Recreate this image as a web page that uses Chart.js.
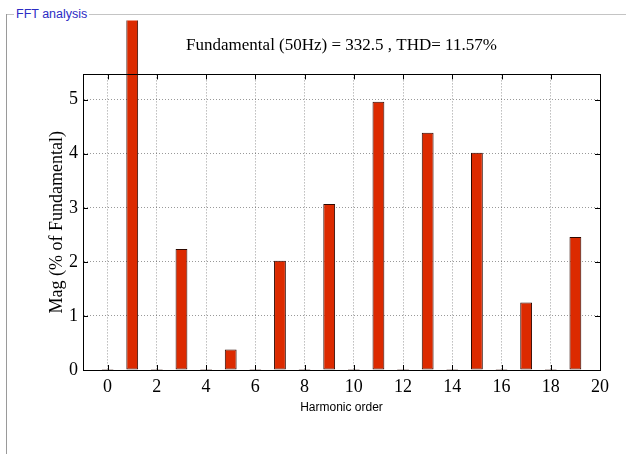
<!DOCTYPE html>
<html>
<head>
<meta charset="utf-8">
<script src="https://cdn.jsdelivr.net/npm/chart.js@4/dist/chart.umd.min.js"></script>
<style>
  html, body { margin: 0; padding: 0; background: #fff; }
  #panel { position: relative; width: 626px; height: 454px; overflow: hidden; }
  #topline { position: absolute; left: 6px; top: 14px; width: 620px; height: 1px; background: #c4c4c4; }
  #leftline { position: absolute; left: 6px; top: 14px; width: 1px; height: 440px; background: #9a9a9a; }
  #legend { position: absolute; left: 14px; top: 6px; padding: 0 2px; background: #fff;
    font: 12.5px 'Liberation Sans', Arial, sans-serif; color: #2c2cc4; line-height: 16px; }
  canvas { position: absolute; left: 0; top: 0; }
</style>
</head>
<body>
<div id="panel">
  <div id="topline"></div>
  <div id="leftline"></div>
  <div id="legend">FFT analysis</div>
  <canvas id="myChart" width="626" height="454"></canvas>
</div>
<script>
'use strict';

let harmonics = [0, 1, 2, 3, 4, 5, 6, 7, 8, 9, 10, 11, 12, 13, 14, 15, 16, 17, 18, 19];
let magnitudes = [0.02, 100, 0.02, 2.24, 0.02, 0.38, 0.02, 2.02, 0.02, 3.07, 0.02, 4.96, 0.02, 4.39, 0.02, 4.02, 0.02, 1.25, 0.02, 2.46];
let xTicks = [0, 2, 4, 6, 8, 10, 12, 14, 16, 18, 20];
let yTicks = [0, 1, 2, 3, 4, 5];
let chartTitle = 'Fundamental (50Hz) = 332.5 , THD= 11.57%';

let serif = "'Liberation Serif', 'Times New Roman', serif";
let sans = "'Liberation Sans', Arial, sans-serif";

// matlab style box with inward ticks on all four sides
let boxPlugin = {
  id: 'box',
  afterDatasetsDraw(chart) {
    let ctx = chart.ctx;
    let a = chart.chartArea;
    let xs = chart.scales.x;
    let ys = chart.scales.y;
    let len = 5;
    ctx.save();
    ctx.strokeStyle = '#000';
    ctx.lineWidth = 1;
    ctx.beginPath();
    for (let i = 0; i < xTicks.length; i++) {
      let px = Math.round(xs.getPixelForValue(xTicks[i])) + 0.5;
      ctx.moveTo(px, a.bottom);
      ctx.lineTo(px, a.bottom - len);
      ctx.moveTo(px, a.top);
      ctx.lineTo(px, a.top + len);
    }
    for (let i = 0; i < yTicks.length; i++) {
      let py = Math.round(ys.getPixelForValue(yTicks[i])) + 0.5;
      ctx.moveTo(a.left, py);
      ctx.lineTo(a.left + len, py);
      ctx.moveTo(a.right, py);
      ctx.lineTo(a.right - len, py);
    }
    ctx.stroke();
    ctx.strokeRect(Math.round(a.left) + 0.5, Math.round(a.top) + 0.5,
      Math.round(a.right - a.left), Math.round(a.bottom - a.top));
    ctx.restore();
  }
};

let points = [];
for (let i = 0; i < harmonics.length; i++) {
  points.push({ x: harmonics[i], y: magnitudes[i] });
}

let ctx = document.getElementById('myChart').getContext('2d');
new Chart(ctx, {
  type: 'bar',
  data: {
    datasets: [{
      label: 'Mag',
      data: points,
      backgroundColor: '#dc2a00',
      borderColor: '#2e0800',
      borderWidth: 1,
      borderSkipped: false,
      barPercentage: 0.48,
      categoryPercentage: 1,
      clip: { left: 0, top: 54, right: 0, bottom: 0 }
    }]
  },
  options: {
    responsive: false,
    animation: false,
    layout: { padding: { left: 0, right: 26, top: 0, bottom: 0 } },
    plugins: {
      legend: { display: false },
      tooltip: { enabled: false },
      title: {
        display: true,
        text: chartTitle,
        fullSize: false,
        color: '#000',
        font: { family: serif, size: 17, weight: 'normal' },
        padding: { top: 35, bottom: 19 }
      }
    },
    scales: {
      x: {
        type: 'linear',
        min: -1,
        max: 20,
        offset: false,
        afterFit(scale) { scale.height = 84; },
        ticks: {
          stepSize: 2,
          includeBounds: false,
          autoSkip: false,
          maxRotation: 0,
          color: '#000',
          padding: 6,
          font: { family: serif, size: 18 }
        },
        grid: { color: 'rgba(0,0,0,0.4)', drawTicks: false, offset: false },
        border: { display: true, color: '#000', dash: [1, 2] },
        title: {
          display: true,
          text: 'Harmonic order',
          color: '#000',
          font: { family: sans, size: 12 },
          padding: { top: 0, bottom: 39 }
        }
      },
      y: {
        min: 0,
        max: 5.467,
        afterFit(scale) { scale.width = 83; },
        ticks: {
          stepSize: 1,
          includeBounds: false,
          color: '#000',
          padding: 5,
          font: { family: serif, size: 18 }
        },
        grid: { color: 'rgba(0,0,0,0.4)', drawTicks: false },
        border: { display: true, color: '#000', dash: [1, 2] },
        title: {
          display: true,
          text: 'Mag (% of Fundamental)',
          color: '#000',
          font: { family: serif, size: 18 },
          padding: { top: 46, bottom: 0 }
        }
      }
    }
  },
  plugins: [boxPlugin]
});
</script>
</body>
</html>
